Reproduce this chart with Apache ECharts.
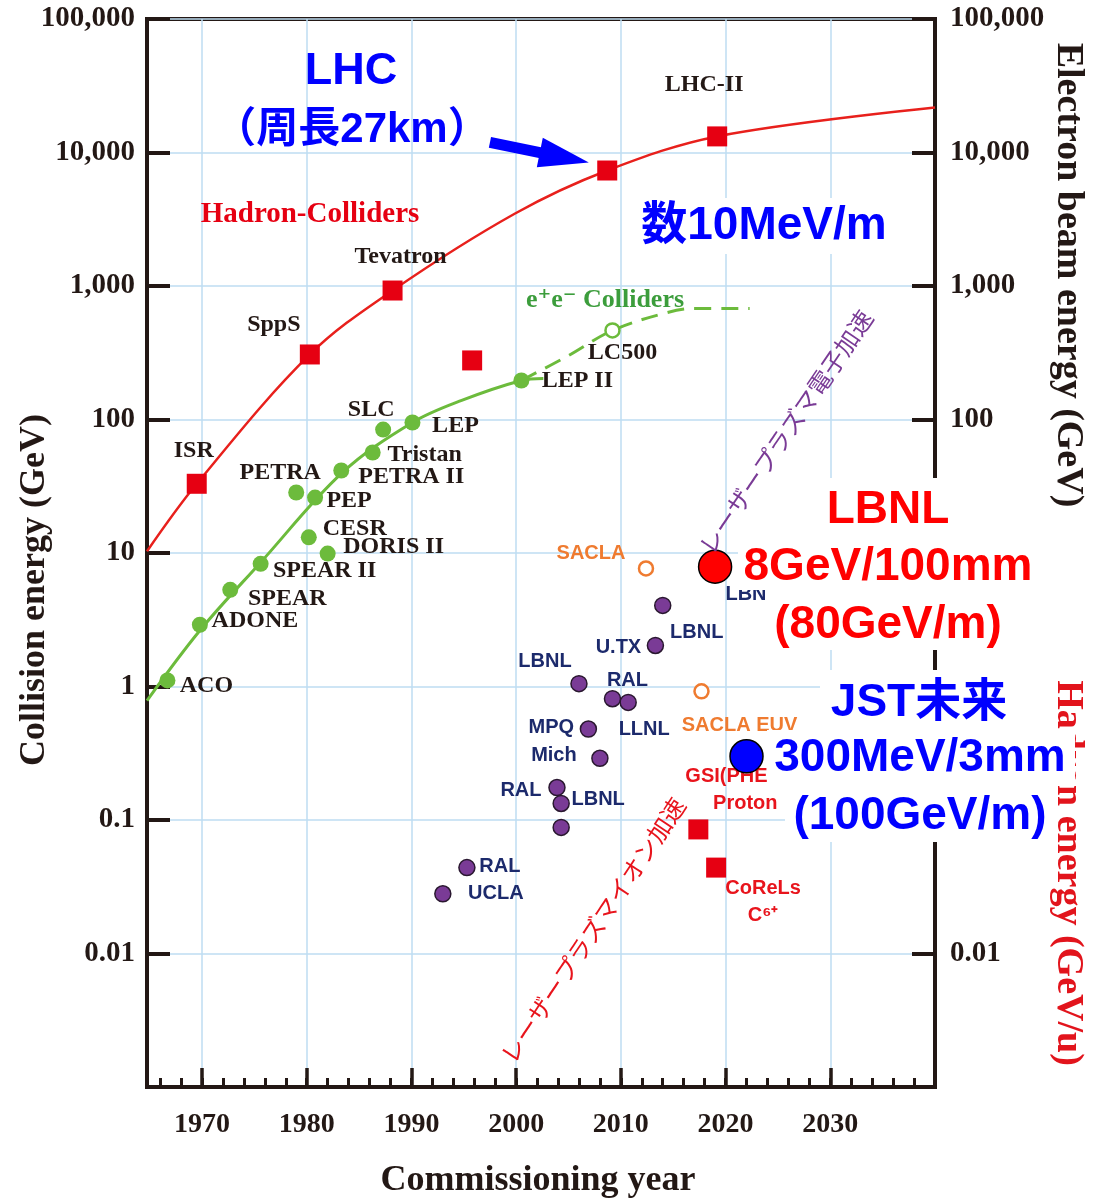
<!DOCTYPE html>
<html>
<head>
<meta charset="utf-8">
<title>Collision energy vs commissioning year</title>
<script src="https://cdn.jsdelivr.net/npm/echarts@6.0.0/dist/echarts.min.js"></script>
<style>
    html, body { margin: 0; padding: 0; background: #fff; }
    #chart { width: 1106px; height: 1202px; }
</style>
</head>
<body>
<div id="chart"></div>
<script>
// ---- axes ----
var yearMin = 1964.75, yearMax = 2040;
var yearTicks = [1970, 1980, 1990, 2000, 2010, 2020, 2030];
var yearMinorTicks = [1966, 1968, 1970, 1972, 1974, 1976, 1978, 1980, 1982, 1984, 1986, 1988,
    1990, 1992, 1994, 1996, 1998, 2000, 2002, 2004, 2006, 2008, 2010, 2012, 2014, 2016, 2018,
    2020, 2022, 2024, 2026, 2028, 2030, 2032, 2034, 2036, 2038];
var rightTickLabels = ['100,000', '10,000', '1,000', '100', '0.01'];

// ---- hadron colliders (red squares) ----
var hadronNames = ['ISR', 'SppS', 'Tevatron', '', '', 'LHC-II'];
var hadronYears = [1969.5, 1980.3, 1988.2, 1995.8, 2008.7, 2019.2];
var hadronEnergy = [33, 307, 925, 277, 7330, 13200];
var hadronCurveYears = [1964.75, 1969.5, 1980.3, 1988.2, 1999.9, 2008.7, 2019.2, 2040];
var hadronCurveEnergy = [10.3, 33, 307, 925, 3490, 7330, 13200, 21700];

// ---- laser plasma ion acceleration (red squares) ----
var ionNames = ['GSI(PHELIX)\nProton', 'CoReLs\nC⁶⁺'];
var ionYears = [2017.4, 2019.1];
var ionEnergy = [0.085, 0.044];

// ---- e+e- colliders (green) ----
var eeNames = ['ACO', 'ADONE', 'SPEAR', 'SPEAR II', 'PETRA', 'PEP', 'CESR', 'DORIS II',
    'PETRA II', 'Tristan', 'SLC', 'LEP', 'LEP II'];
var eeYears = [1966.7, 1969.8, 1972.7, 1975.6, 1979.0, 1980.8, 1980.2, 1982.0,
    1983.3, 1986.3, 1987.3, 1990.1, 2000.5];
var eeEnergy = [1.11, 2.9, 5.3, 8.3, 28.4, 26, 13.1, 9.9, 41.5, 56.6, 84, 95, 196];
var eeCurveYears = [1964.75, 1969.8, 1975.6, 1983.4, 1990.1, 1994.8, 2000.5, 2002.6];
var eeCurveEnergy = [0.785, 2.63, 8.5, 40, 95, 139, 196, 203];
var eeFutureYears = [2000.5, 2005.0, 2009.2, 2014.4, 2016.9, 2022.3];
var eeFutureEnergy = [196, 301, 465, 632, 678, 678];
var lc500Year = [2009.2], lc500Energy = [465];

// ---- laser plasma electron acceleration (purple) ----
var lpaNames = ['LBNL', 'U.TX', 'LBNL', 'RAL', 'LLNL', 'MPQ', 'Mich', 'RAL', 'LBNL', '', 'RAL', 'UCLA'];
var lpaYears = [2014.0, 2013.3, 2006.0, 2009.2, 2010.7, 2006.9, 2008.0, 2003.9, 2004.3, 2004.3, 1995.3, 1993.0];
var lpaEnergy = [4.05, 2.03, 1.05, 0.81, 0.76, 0.48, 0.29, 0.175, 0.133, 0.088, 0.044, 0.028];

// ---- SACLA (orange open circles) ----
var saclaNames = ['SACLA', 'SACLA EUV'];
var saclaYears = [2012.4, 2017.7];
var saclaEnergy = [7.66, 0.92];

// ---- highlighted results ----
var lbnlYear = [2019.0], lbnlEnergy = [7.9];
var jstYear = [2022.0], jstEnergy = [0.3];
var lhcArrowFrom = [1997.5, 11900], lhcArrowTo = [2004.6, 9170];

// label offsets (pixels, label centre relative to marker centre)
var hadronLabelOffsets = [[-3, -33], [-36, -30], [8, -34], [0, 0], [0, 0], [-13, -52]];
var ionLabelOffsets = [[47, -39], [47, 34]];
var eeLabelOffsets = [[39, 5], [55, -4], [57, 9], [64, 7], [-16, -20], [34, 3], [46, -9],
    [66, -7], [70, 6], [52, 2], [-12, -20], [43, 3], [56, 0]];
var lpaLabelOffsets = [[34, 27], [-37, 2], [-34, -22], [15, -18], [16, 27], [-37, -2],
    [-46, -3], [-36, 3], [37, -4], [0, 0], [33, -1], [53, 0]];
var saclaLabelOffsets = [[-55, -15], [38, 34]];

var SERIF = "'Liberation Serif', 'DejaVu Serif', serif";
var SANS = "'Liberation Sans', 'Noto Sans CJK JP', sans-serif";
var JP = "'Noto Sans CJK JP', 'Liberation Sans', sans-serif";
var INK = '#231815', GRIDC = '#bedcf2', RED = '#e60012', GREEN = '#6cbb3c';
var PURPLE = '#7a3b96', NAVY = '#1c2a6c', ORANGE = '#ef7b30', BLUE = '#0000ff';

function pts(xs, ys) {
    return xs.map(function (x, i) { return [x, ys[i]]; });
}
function labelled(xs, ys, names, offsets) {
    return xs.map(function (x, i) {
        return { name: names[i], value: [x, ys[i]], label: { offset: offsets[i] } };
    });
}
function logLabel(v) {
    var e = Math.round(Math.log10(v));
    if (e < -2) return '';
    if (e >= 0) return Math.pow(10, e).toLocaleString('en-US');
    return Math.pow(10, e).toFixed(-e);
}
function pointLabel(family, size, color, weight) {
    return {
        show: true, position: 'inside', formatter: '{b}', fontFamily: family,
        fontSize: size, fontWeight: weight || 'bold', color: color, opacity: 1,
        align: 'center', verticalAlign: 'middle', textBorderWidth: 0
    };
}
function txt(text, x, y, font, fill, rotation, z) {
    return {
        type: 'text', x: x, y: y, rotation: rotation || 0, z: z || 100, silent: true,
        style: { text: text, font: font, fill: fill, align: 'center', verticalAlign: 'middle' }
    };
}
function box(x, y, w, h) {
    return { type: 'rect', shape: { x: x, y: y, width: w, height: h }, style: { fill: '#fff' }, z: 90, silent: true };
}

var chartDom = document.getElementById('chart');
var myChart = echarts.init(chartDom);
var option;

option = {
    animation: false,
    backgroundColor: '#fff',
    grid: {
        left: 147, right: 171, top: 19, bottom: 115,
        show: true, borderColor: INK, borderWidth: 4
    },
    xAxis: [
        {
            type: 'value', min: yearMin, max: yearMax, position: 'bottom',
            axisLine: { show: true, onZero: false, lineStyle: { color: INK, width: 4 } },
            axisTick: { show: true, inside: true, length: 9, customValues: yearMinorTicks,
                lineStyle: { color: INK, width: 3 } },
            axisLabel: { customValues: yearTicks, margin: 24, fontFamily: SERIF, fontWeight: 'bold',
                fontSize: 28, color: INK, formatter: function (v) { return String(Math.round(v)); } },
            splitLine: { show: false }
        },
        {
            type: 'value', min: yearMin, max: yearMax, position: 'bottom',
            axisLine: { show: false, onZero: false },
            axisTick: { show: true, inside: true, length: 19, customValues: yearTicks,
                lineStyle: { color: INK, width: 3.5 } },
            axisLabel: { show: false },
            splitLine: { show: true, lineStyle: { color: GRIDC, width: 1.5 } }
        }
    ],
    yAxis: [
        {
            type: 'log', logBase: 10, min: 0.001, max: 100000, interval: 1, position: 'left',
            axisLine: { show: true, lineStyle: { color: INK, width: 4 } },
            axisTick: { show: true, inside: true, length: 23, lineStyle: { color: INK, width: 4 } },
            axisLabel: { margin: 12, formatter: logLabel, fontFamily: SERIF, fontWeight: 'bold',
                fontSize: 29, color: INK },
            splitLine: { show: true, lineStyle: { color: GRIDC, width: 1.5 } }
        },
        {
            type: 'log', logBase: 10, min: 0.001, max: 100000, interval: 1, position: 'right',
            axisLine: { show: true, lineStyle: { color: INK, width: 4 } },
            axisTick: { show: true, inside: true, length: 23, lineStyle: { color: INK, width: 4 } },
            axisLabel: { margin: 15, fontFamily: SERIF, fontWeight: 'bold', fontSize: 29, color: INK,
                formatter: function (v) {
                    var s = logLabel(v);
                    return rightTickLabels.indexOf(s) >= 0 ? s : '';
                } },
            splitLine: { show: false }
        }
    ],
    series: [
        {
            name: 'Hadron trend', type: 'line', smooth: 0.35, symbol: 'none', silent: true, z: 2,
            data: pts(hadronCurveYears, hadronCurveEnergy),
            lineStyle: { color: '#e8201c', width: 2.5 },
            markLine: {
                silent: true, symbol: ['none', 'triangle'], symbolSize: [30, 50],
                lineStyle: { color: BLUE, width: 11, type: 'solid', opacity: 1 },
                itemStyle: { color: BLUE, opacity: 1 },
                label: { show: false },
                data: [[{ coord: lhcArrowFrom }, { coord: lhcArrowTo }]]
            }
        },
        {
            name: 'e+e- trend', type: 'line', smooth: 0.35, symbol: 'none', silent: true, z: 2,
            data: pts(eeCurveYears, eeCurveEnergy),
            lineStyle: { color: GREEN, width: 3 }
        },
        {
            name: 'e+e- future', type: 'line', smooth: 0.35, symbol: 'none', silent: true, z: 2,
            data: pts(eeFutureYears, eeFutureEnergy),
            lineStyle: { color: GREEN, width: 3, type: [17, 10] }
        },
        {
            name: 'Hadron colliders', type: 'scatter', symbol: 'rect', symbolSize: 20, silent: true, z: 3,
            data: labelled(hadronYears, hadronEnergy, hadronNames, hadronLabelOffsets),
            itemStyle: { color: RED, opacity: 1 },
            label: pointLabel(SERIF, 24, INK)
        },
        {
            name: 'Laser ion', type: 'scatter', symbol: 'rect', symbolSize: 20, silent: true, z: 3,
            data: labelled(ionYears, ionEnergy, ionNames, ionLabelOffsets),
            itemStyle: { color: RED, opacity: 1 },
            label: Object.assign(pointLabel(SANS, 20, '#e8141c'), { lineHeight: 27 })
        },
        {
            name: 'e+e- colliders', type: 'scatter', symbol: 'circle', symbolSize: 16, silent: true, z: 3,
            data: labelled(eeYears, eeEnergy, eeNames, eeLabelOffsets),
            itemStyle: { color: GREEN, opacity: 1 },
            label: pointLabel(SERIF, 24, INK)
        },
        {
            name: 'LC500', type: 'scatter', symbol: 'circle', symbolSize: 14, silent: true, z: 3,
            data: labelled(lc500Year, lc500Energy, ['LC500'], [[10, 22]]),
            itemStyle: { color: '#fff', borderColor: GREEN, borderWidth: 2.5, opacity: 1 },
            label: pointLabel(SERIF, 24, INK)
        },
        {
            name: 'Laser electron', type: 'scatter', symbol: 'circle', symbolSize: 16, silent: true, z: 3,
            data: labelled(lpaYears, lpaEnergy, lpaNames, lpaLabelOffsets),
            itemStyle: { color: PURPLE, borderColor: '#2a1830', borderWidth: 1.5, opacity: 1 },
            label: pointLabel(SANS, 20, NAVY)
        },
        {
            name: 'SACLA', type: 'scatter', symbol: 'circle', symbolSize: 14, silent: true, z: 3,
            data: labelled(saclaYears, saclaEnergy, saclaNames, saclaLabelOffsets),
            itemStyle: { color: '#fff', borderColor: ORANGE, borderWidth: 2.5, opacity: 1 },
            label: pointLabel(SANS, 20, ORANGE)
        },
        {
            name: 'LBNL 8GeV', type: 'scatter', symbol: 'circle', symbolSize: 33, silent: true, z: 4,
            data: labelled(lbnlYear, lbnlEnergy, ['LBNL'], [[37, 28]]),
            itemStyle: { color: '#ff0000', borderColor: '#000', borderWidth: 1.5, opacity: 1 },
            label: pointLabel(SANS, 20, NAVY)
        },
        {
            name: 'JST', type: 'scatter', symbol: 'circle', symbolSize: 33, silent: true, z: 4,
            data: pts(jstYear, jstEnergy),
            itemStyle: { color: BLUE, borderColor: '#000', borderWidth: 1.5, opacity: 1 }
        }
    ],
    graphic: {
        elements: [
            txt('Collision energy (GeV)', 35, 590, 'bold 36px ' + SERIF, INK, Math.PI / 2),
            txt('Commissioning year', 538, 1181, 'bold 36px ' + SERIF, INK),
            txt('Electron beam energy (GeV)', 1068, 275, 'bold 38px ' + SERIF, INK, -Math.PI / 2),
            txt('Hadron energy (GeV/u)', 1068, 873, 'bold 38px ' + SERIF, '#e2141c', -Math.PI / 2, 80),
            txt('Hadron-Colliders', 310, 215, 'bold 29px ' + SERIF, RED),
            txt('e⁺e⁻ Colliders', 605, 300, 'bold 26px ' + SERIF, '#3c9d3c'),
            txt('レーザープラズマ電子加速', 786, 432, '24px ' + JP, PURPLE, 0.974),
            txt('レーザープラズマイオン加速', 593, 930, '24px ' + JP, '#e8141c', 0.984),
            txt('LHC', 351, 72, 'bold 45px ' + SANS, BLUE),
            txt('（周長27km）', 352, 130, 'bold 42px ' + SANS, BLUE),
            box(632, 198, 262, 56),
            txt('数10MeV/m', 764, 226, 'bold 46px ' + SANS, BLUE),
            box(810, 478, 150, 60),
            box(738, 538, 302, 52),
            box(765, 590, 245, 60),
            txt('LBNL', 888, 510, 'bold 46px ' + SANS, '#ff0000'),
            txt('8GeV/100mm', 888, 567, 'bold 46px ' + SANS, '#ff0000'),
            txt('(80GeV/m)', 888, 625, 'bold 46px ' + SANS, '#ff0000'),
            box(820, 670, 195, 60),
            box(767, 730, 308, 55),
            box(785, 785, 265, 57),
            txt('JST未来', 919, 703, 'bold 46px ' + SANS, BLUE),
            txt('300MeV/3mm', 920, 758, 'bold 46px ' + SANS, BLUE),
            txt('(100GeV/m)', 920, 816, 'bold 46px ' + SANS, BLUE)
        ]
    }
};

option && myChart.setOption(option);
</script>
</body>
</html>
